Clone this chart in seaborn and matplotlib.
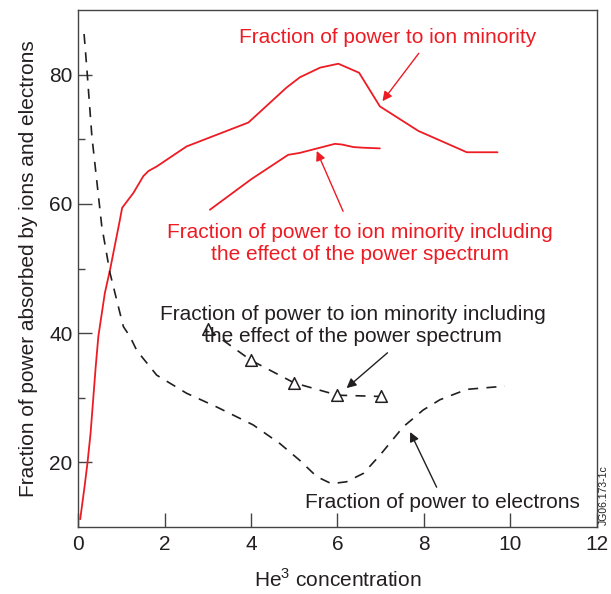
import numpy as np
import pandas as pd
import matplotlib
matplotlib.use("Agg")
import matplotlib.pyplot as plt
import seaborn as sns

# ---------------------------------------------------------------------------
# Data
# ---------------------------------------------------------------------------

ion_x = [0.05, 0.15, 0.22, 0.29, 0.41, 0.47, 0.62, 0.74, 0.97, 1.02, 1.28, 1.51,
         1.63, 1.82, 2.51, 3.94, 4.82, 5.13, 5.60, 6.02, 6.50, 6.98, 7.87, 8.99, 9.70]
ion_y = [11.2, 16.2, 20.0, 24.5, 34.9, 39.5, 46.2, 49.8, 57.6, 59.4, 61.7, 64.3,
         65.1, 65.8, 68.9, 72.6, 78.0, 79.6, 81.1, 81.7, 80.3, 75.1, 71.3, 68.0, 68.0]

ion_spec_x = [3.05, 4.00, 4.86, 5.13, 5.94, 6.10, 6.37, 6.60, 6.98]
ion_spec_y = [59.1, 63.8, 67.6, 67.9, 69.3, 69.2, 68.8, 68.7, 68.6]

elec_x = [0.14, 0.20, 0.32, 0.43, 0.55, 0.74, 0.97, 1.05, 1.20, 1.36, 1.82, 2.51,
          3.20, 4.05, 4.67, 5.13, 5.52, 5.86, 6.21, 6.60, 6.98, 7.52, 7.98, 8.37,
          8.99, 9.87]
elec_y = [86.3, 81.3, 70.5, 63.8, 56.5, 49.3, 43.1, 41.0, 39.5, 37.3, 33.5, 30.7,
          28.6, 25.8, 22.9, 20.3, 17.8, 16.7, 17.0, 18.3, 21.1, 25.5, 28.1, 29.7,
          31.3, 31.8]

tri_x = [3.0, 4.0, 5.0, 6.0, 7.0]
tri_y = [40.6, 35.8, 32.3, 30.4, 30.2]

RED = "#ed1c24"
INK = "#231f20"
SPINE = "#444444"

sns.set_theme(style="white")
plt.rcParams.update({
    "font.family": ["Liberation Sans", "DejaVu Sans"],
    "mathtext.fontset": "custom",
    "mathtext.rm": "Liberation Sans",
    "axes.edgecolor": SPINE,
    "axes.linewidth": 1.0,
    "xtick.bottom": True,
    "ytick.left": True,
})

fig, ax = plt.subplots(figsize=(6.11, 5.94), dpi=100)
fig.subplots_adjust(left=0.1277, right=0.977, bottom=0.1128, top=0.983)

sns.lineplot(x=ion_x, y=ion_y, sort=False, color=RED, linewidth=1.3, ax=ax)
sns.lineplot(x=ion_spec_x, y=ion_spec_y, sort=False, color=RED, linewidth=1.3, ax=ax)
sns.lineplot(x=elec_x, y=elec_y, sort=False, color=INK, linewidth=1.2, ax=ax)
ax.lines[-1].set_dashes([6, 5])
sns.lineplot(x=tri_x, y=tri_y, sort=False, color=INK, linewidth=1.2, ax=ax)
ax.lines[-1].set_dashes([6, 5])
sns.scatterplot(x=tri_x, y=tri_y, marker="^", s=70, facecolor="white",
                edgecolor=INK, linewidth=1.1, zorder=3, ax=ax)

# annotations
arrow = dict(arrowstyle="-|>", lw=1.0, mutation_scale=14)
ax.annotate("Fraction of power to ion minority", xy=(7.04, 75.9), xytext=(7.17, 85.8),
            color=RED, fontsize=15, ha="center", va="center",
            arrowprops=dict(arrow, color=RED, shrinkA=3, shrinkB=0,
                            relpos=(0.62, 0.0)))
ax.annotate("Fraction of power to ion minority including\nthe effect of the power spectrum",
            xy=(5.52, 68.2), xytext=(6.52, 53.8), color=RED, fontsize=15,
            ha="center", va="center", linespacing=1.2,
            arrowprops=dict(arrow, color=RED, shrinkA=7, shrinkB=0,
                            relpos=(0.47, 1.0)))
ax.annotate("Fraction of power to ion minority including\nthe effect of the power spectrum",
            xy=(6.21, 31.5), xytext=(6.36, 41.2), color=INK, fontsize=15,
            ha="center", va="center", linespacing=1.2,
            arrowprops=dict(arrow, color=INK, shrinkA=4, shrinkB=0,
                            relpos=(0.61, 0.0)))
ax.annotate("Fraction of power to electrons", xy=(7.68, 24.7), xytext=(8.42, 13.8),
            color=INK, fontsize=15, ha="center", va="center",
            arrowprops=dict(arrow, color=INK, shrinkA=2, shrinkB=0,
                            relpos=(0.49, 1.0)))

ax.set_xlim(0, 12)
ax.set_ylim(10, 90)
ax.set_xticks([0, 2, 4, 6, 8, 10, 12])
ax.set_yticks([20, 40, 60, 80])
ax.set_yticks([30, 50, 70], minor=True)
ax.tick_params(axis="both", which="major", direction="in", length=10, width=1.0,
               color=SPINE, labelsize=15, labelcolor=INK)
ax.tick_params(axis="x", pad=6)
ax.tick_params(axis="y", pad=4)
ax.tick_params(axis="y", which="minor", direction="in", length=5, width=1.0,
               color=SPINE, left=True)
ax.set_xlabel("He$^{3}$ concentration", fontsize=15, color=INK, labelpad=10)
ax.set_ylabel("Fraction of power absorbed by ions and electrons", fontsize=15,
              color=INK, labelpad=8)

fig.text(0.989, 0.167, "JG06.173-1c", rotation=90, fontsize=7.5,
         color=INK, ha="center", va="center")

fig.savefig("out.png", dpi=100)
